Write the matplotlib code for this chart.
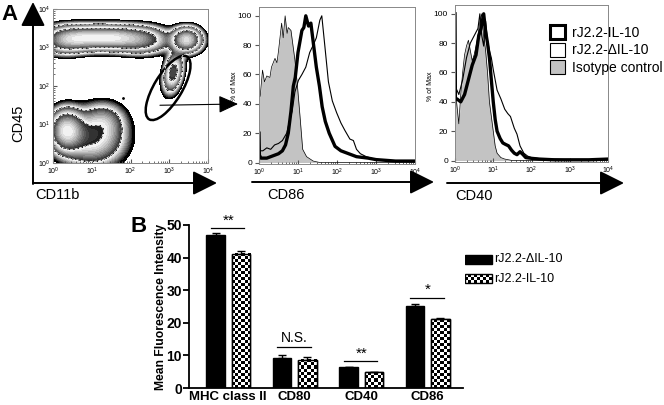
import numpy as np
import matplotlib
matplotlib.use('Agg')
import matplotlib.pyplot as plt
from matplotlib.patches import Ellipse, Patch, Rectangle, FancyArrowPatch, ConnectionPatch

plt.rcParams['font.family'] = ['Liberation Sans', 'DejaVu Sans']
plt.rcParams['mathtext.fontset'] = 'custom'
plt.rcParams['mathtext.rm'] = 'Liberation Sans'
plt.rcParams['mathtext.it'] = 'Liberation Sans'
plt.rcParams['mathtext.bf'] = 'Liberation Sans:bold'

W, H = 664, 405

# ---- panel A, dot plot populations (log10 units): cx, cy, sx, sy, rho, weight
pop_cx = [0.3, 0.9, 1.6, 2.3, 3.45, 3.1, 0.35, 1.0, 1.3]
pop_cy = [3.2, 3.25, 3.25, 3.2, 3.2, 2.35, 0.85, 0.6, 1.1]
pop_sx = [0.35, 0.4, 0.4, 0.4, 0.22, 0.15, 0.25, 0.5, 0.35]
pop_sy = [0.2, 0.18, 0.18, 0.2, 0.18, 0.3, 0.3, 0.4, 0.3]
pop_rho = [0, 0, 0, 0, 0, 0.3, 0, 0, 0]
pop_w = [1.0, 1.2, 1.2, 0.9, 1.5, 0.8, 1.5, 0.6, 0.3]

# ---- panel A, histograms (x in log10 units, y in % of max)
cd86_iso_x = [0, 0.03, 0.09, 0.14, 0.2, 0.28, 0.32, 0.41, 0.46, 0.5, 0.58, 0.62, 0.67, 0.72, 0.75,
              0.82, 0.92, 0.98, 1.05, 1.12, 1.22, 1.39, 1.56, 4.0]
cd86_iso_y = [45, 45, 63, 55, 59, 58, 65, 71, 68, 76, 95, 85, 100, 88, 92, 90, 70, 54, 32, 9, 4, 1, 0, 0]
cd86_del_x = [0, 0.1, 0.2, 0.3, 0.4, 0.5, 0.6, 0.71, 0.78, 0.85, 0.92, 1.01, 1.1, 1.2, 1.3, 1.39,
              1.47, 1.56, 1.61, 1.69, 1.78, 1.88, 1.99, 2.1, 2.2, 2.33, 2.42, 2.5, 2.6, 2.75, 3.0, 3.5, 4.0]
cd86_del_y = [8, 8, 10, 9, 12, 13, 15, 20, 28, 35, 48, 56, 60, 65, 75, 80, 85, 97, 100, 79, 55, 42,
              34, 27, 22, 16, 15, 9, 6, 4, 2, 1, 0.5]
cd86_il_x = [0, 0.01, 0.05, 0.1, 0.2, 0.3, 0.4, 0.5, 0.6, 0.68, 0.75, 0.82, 0.88, 0.93, 1.0, 1.1,
             1.15, 1.2, 1.27, 1.33, 1.4, 1.47, 1.55, 1.62, 1.7, 1.8, 1.95, 2.1, 2.3, 2.5, 2.8, 3.0, 3.5, 4.0]
cd86_il_y = [20, 5, 3, 3, 3, 4, 5, 6, 8, 12, 20, 35, 52, 58, 75, 90, 92, 100, 93, 95, 80, 65, 52,
             38, 28, 20, 11, 8, 6, 4, 3, 2, 1, 1]

cd40_iso_x = [0, 0.1, 0.15, 0.2, 0.25, 0.3, 0.35, 0.4, 0.45, 0.5, 0.55, 0.6, 0.65, 0.7, 0.75, 0.8,
              0.85, 0.9, 0.95, 1.0, 1.05, 1.1, 1.2, 1.3, 1.5, 4.0]
cd40_iso_y = [50, 25, 45, 60, 72, 78, 82, 75, 68, 72, 78, 85, 95, 100, 85, 75, 60, 40, 30, 20, 10,
              5, 2, 1, 0, 0]
cd40_del_x = [0, 0.05, 0.1, 0.2, 0.3, 0.4, 0.5, 0.6, 0.65, 0.7, 0.75, 0.8, 0.85, 0.9, 0.95, 1.0,
              1.05, 1.1, 1.2, 1.3, 1.38, 1.45, 1.55, 1.62, 1.7, 1.8, 1.9, 2.0, 2.3, 2.6, 3.0, 3.5, 4.0]
cd40_del_y = [50, 48, 45, 55, 70, 80, 85, 90, 100, 85, 78, 95, 82, 75, 70, 62, 55, 48, 42, 35, 32,
              30, 22, 18, 10, 5, 3, 2, 1, 1, 0.5, 0.5, 1]
cd40_il_x = [0, 0.01, 0.05, 0.15, 0.25, 0.35, 0.45, 0.55, 0.62, 0.68, 0.75, 0.8, 0.85, 0.9, 0.95,
             1.0, 1.05, 1.1, 1.18, 1.25, 1.32, 1.4, 1.48, 1.55, 1.62, 1.7, 1.78, 1.85, 2.0, 2.2, 2.6,
             3.0, 3.5, 4.0]
cd40_il_y = [100, 42, 42, 40, 45, 55, 65, 72, 85, 90, 100, 88, 80, 70, 55, 40, 28, 20, 15, 12, 11,
             10, 7, 5, 4, 6, 4, 2, 1.5, 1, 0.5, 0.5, 0.5, 1]

legend_a = ['rJ2.2-IL-10', 'rJ2.2-\u0394IL-10', 'Isotype control']

# ---- panel B
categories = ['MHC class II', 'CD80', 'CD40', 'CD86']
delta_mfi = [46.8, 9.2, 6.3, 25.3]
delta_err = [0.6, 0.8, 0.1, 0.6]
il10_mfi = [41.2, 8.7, 4.8, 21.1]
il10_err = [0.9, 0.8, 0.2, 0.5]
sig_labels = ['**', 'N.S.', '**', '*']
sig_heights = [49, 12.5, 8.2, 27.7]
legend_b = ['rJ2.2-\u0394IL-10', 'rJ2.2-IL-10']


def fbox(left, top, right, bottom):
    return [left / W, 1 - bottom / H, (right - left) / W, (bottom - top) / H]


def fpt(x, y):
    return (x / W, 1 - y / H)


fig = plt.figure(figsize=(W / 100, H / 100), dpi=100)

log_labels = [r'$10^{%d}$' % i for i in range(5)]
minor = np.log10(np.concatenate([np.arange(2, 10) * 10.0 ** k for k in range(4)]))


def flow_axes(ax, ylog):
    for s in ax.spines.values():
        s.set_color('#888888')
        s.set_linewidth(0.7)
    ax.set_xlim(0, 4)
    ax.set_xticks(range(5))
    ax.set_xticklabels(log_labels)
    ax.set_xticks(minor, minor=True)
    ax.tick_params(axis='x', which='both', direction='in', labelsize=5, pad=2, color='#555555')
    ax.tick_params(axis='x', which='major', length=3)
    ax.tick_params(axis='x', which='minor', length=1.5)
    if ylog:
        ax.set_ylim(0, 4)
        ax.set_yticks(range(5))
        ax.set_yticklabels(log_labels)
        ax.set_yticks(minor, minor=True)
        ax.tick_params(axis='y', which='both', direction='in', labelsize=5, pad=2, color='#555555')
        ax.tick_params(axis='y', which='major', length=3)
        ax.tick_params(axis='y', which='minor', length=1.5)
    else:
        ax.set_ylim(-1, 106)
        ax.set_yticks(range(0, 101, 20))
        ax.set_yticklabels([str(v) for v in range(0, 101, 20)])
        ax.tick_params(axis='y', direction='out', length=3, labelsize=6, pad=2, color='#555555',
                       labelcolor='black', labelleft=True)
        ax.set_zorder(10)


# dot plot
ax1 = fig.add_axes(fbox(53, 9, 208, 163))
gx, gy = np.meshgrid(np.linspace(0, 4, 300), np.linspace(0, 4, 300))
dens = np.zeros_like(gx)
for cx, cy, sx, sy, r, w in zip(pop_cx, pop_cy, pop_sx, pop_sy, pop_rho, pop_w):
    dx = (gx - cx) / sx
    dy = (gy - cy) / sy
    dens += w * np.exp(-(dx ** 2 - 2 * r * dx * dy + dy ** 2) / (2 * (1 - r ** 2)))
z = np.log(dens / dens.max() + 1e-12)
n_cyc, steps = 3, 12
lo = -3.4
levels = np.concatenate([[lo], np.linspace(lo + 0.35, 0.001, n_cyc * steps + 1)])
cols = ['black']
for c in range(n_cyc):
    for s in range(steps):
        g = 0.12 + 0.83 * s / (steps - 1)
        cols.append((g, g, g))
ax1.contourf(gx, gy, z, levels=levels, colors=cols)
ax1.contour(gx, gy, z, levels=levels[1::steps][1:-1], colors='white', linewidths=0.6)
ax1.plot([1.8], [1.69], 'k.', ms=2)
ax1.add_patch(Ellipse((2.97, 1.95), 1.9, 0.72, angle=59, fill=False, lw=1.8, color='k'))
flow_axes(ax1, True)

# CD86 histogram
ax2 = fig.add_axes(fbox(259, 7, 415, 164))
ax2.fill_between(cd86_iso_x, cd86_iso_y, color='#c3c3c3', lw=0)
ax2.plot(cd86_iso_x, cd86_iso_y, color='k', lw=0.5)
ax2.plot(cd86_del_x, cd86_del_y, color='k', lw=0.8)
ax2.plot(cd86_il_x, cd86_il_y, color='k', lw=2.4)
flow_axes(ax2, False)

# CD40 histogram
ax3 = fig.add_axes(fbox(455, 5, 608, 162))
ax3.fill_between(cd40_iso_x, cd40_iso_y, color='#c3c3c3', lw=0)
ax3.plot(cd40_iso_x, cd40_iso_y, color='k', lw=0.5)
ax3.plot(cd40_del_x, cd40_del_y, color='k', lw=0.8)
ax3.plot(cd40_il_x, cd40_il_y, color='k', lw=2.4)
flow_axes(ax3, False)

for xy in [fpt(235, 86), fpt(431, 86)]:
    fig.text(*xy, '% of Max', rotation=90, fontsize=5, ha='center', va='center')

handles = [Patch(facecolor='white', edgecolor='k', lw=2.2),
           Patch(facecolor='white', edgecolor='k', lw=0.8),
           Patch(facecolor='#c3c3c3', edgecolor='k', lw=0.8)]
leg = fig.legend(handles, legend_a, loc='upper left', bbox_to_anchor=fpt(550, 25), frameon=False,
                 fontsize=10, handlelength=1.1, handleheight=1.2, handletextpad=0.5,
                 labelspacing=0.2, borderaxespad=0, borderpad=0)
leg.set_zorder(20)


# outer arrows and labels
def arrow(p0, p1, lw=1.4):
    fig.add_artist(FancyArrowPatch(fpt(*p0), fpt(*p1), transform=fig.transFigure,
                                   arrowstyle='-|>,head_length=1.0,head_width=0.5',
                                   mutation_scale=15, lw=lw, color='k', shrinkA=0, shrinkB=0))


arrow((33, 184), (33, 2))
arrow((33, 183), (217, 183))
arrow((252, 182), (434, 182))
arrow((447, 183), (624, 183))
fig.add_artist(ConnectionPatch(xyA=(2.76, 1.5), coordsA=ax1.transData, xyB=fpt(238, 104),
                               coordsB=fig.transFigure, arrowstyle='-|>,head_length=1.0,head_width=0.45',
                               mutation_scale=12, lw=0.8, color='k'))

fig.text(*fpt(18, 123), 'CD45', rotation=90, fontsize=10.5, ha='center', va='center')
fig.text(*fpt(35, 195), 'CD11b', fontsize=10.5, ha='left', va='center')
fig.text(*fpt(267, 195), 'CD86', fontsize=10.5, ha='left', va='center')
fig.text(*fpt(455, 196), 'CD40', fontsize=10.5, ha='left', va='center')
fig.text(*fpt(1, 15), 'A', fontsize=16, fontweight='bold', ha='left', va='center')
fig.text(*fpt(131, 226), 'B', fontsize=16, fontweight='bold', ha='left', va='center')

# ---- bar chart
axb = fig.add_axes(fbox(189, 225, 463, 388))
xpos = np.arange(len(categories))
bw, off = 0.28, 0.19
axb.bar(xpos - off, delta_mfi, bw, color='black', edgecolor='black', lw=1,
        yerr=[np.zeros(4), delta_err], capsize=3, error_kw=dict(lw=1, capthick=1))
bars2 = axb.bar(xpos + off, il10_mfi, bw, color='white', edgecolor='black', lw=1,
                yerr=[np.zeros(4), il10_err], capsize=3, error_kw=dict(lw=1, capthick=1))
axb.set_xlim(-0.59, 3.53)
axb.set_ylim(0, 50)
fig.canvas.draw()


def checker(ax, x0, y0, w, h, cell=3.0):
    p0 = ax.transData.transform((x0, y0))
    p1 = ax.transData.transform((x0 + w, y0 + h))
    nx = max(1, int(round(abs(p1[0] - p0[0]) / cell)))
    ny = max(1, int(round(abs(p1[1] - p0[1]) / cell)))
    img = (np.add.outer(np.arange(ny), np.arange(nx)) % 2).astype(float)
    ax.imshow(img, cmap='gray_r', vmin=0, vmax=1, extent=(x0, x0 + w, y0, y0 + h),
              aspect='auto', interpolation='nearest', origin='lower', zorder=1.5)


for b in bars2:
    checker(axb, b.get_x(), b.get_y(), b.get_width(), b.get_height())
    axb.add_patch(Rectangle((b.get_x(), b.get_y()), b.get_width(), b.get_height(),
                            fill=False, edgecolor='black', lw=1, zorder=2))
axb.set_xlim(-0.59, 3.53)
axb.set_ylim(0, 50)

for i, (lab, h) in enumerate(zip(sig_labels, sig_heights)):
    axb.plot([i - off - 0.07, i + off + 0.05], [h, h], color='k', lw=0.9, clip_on=False)
    if lab == 'N.S.':
        axb.text(i, h + 0.8, lab, ha='center', va='bottom', fontsize=10)
    else:
        axb.text(i, h + 0.3, lab, ha='center', va='bottom', fontsize=11)

for s in ['top', 'right']:
    axb.spines[s].set_visible(False)
for s in ['left', 'bottom']:
    axb.spines[s].set_linewidth(1.3)
axb.set_yticks(range(0, 51, 10))
axb.set_xticks(xpos)
axb.set_xticklabels(categories, fontsize=9.5, fontweight='bold')
axb.tick_params(axis='x', length=0, pad=2)
axb.tick_params(axis='y', length=4, width=1.3, labelsize=10, pad=1)
for t in axb.get_yticklabels():
    t.set_fontweight('bold')
fig.text(*fpt(161, 307), 'Mean Fluorescence Intensity', rotation=90, fontsize=8.7,
         fontweight='bold', ha='center', va='center')

# legend B
lg = fig.add_axes(fbox(465, 250, 664, 285))
lg.axis('off')
lg.add_patch(Rectangle((465, 255), 27, 9, color='black'))
lg.set_xlim(465, 664)
lg.set_ylim(285, 250)
checker(lg, 465, 274, 27, 9)
lg.add_patch(Rectangle((465, 274), 27, 9, fill=False, edgecolor='black', lw=1, zorder=2))
lg.set_xlim(465, 664)
lg.set_ylim(285, 250)
fig.text(*fpt(494, 259.5), legend_b[0], fontsize=9, ha='left', va='center')
fig.text(*fpt(494, 278.5), legend_b[1], fontsize=9, ha='left', va='center')

fig.savefig('out.png', dpi=100)
